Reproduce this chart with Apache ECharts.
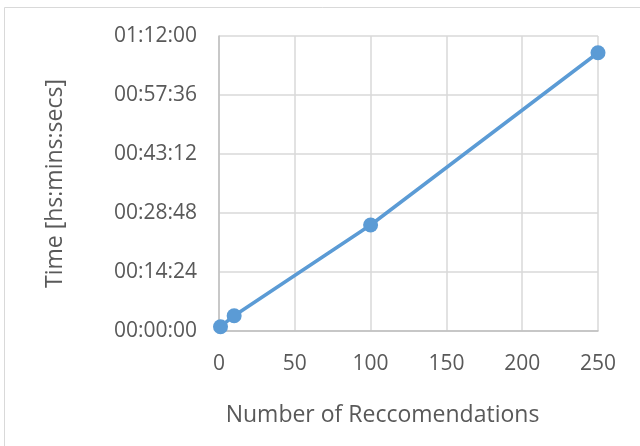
<!DOCTYPE html>
<html>
<head>
<meta charset="utf-8">
<script src="https://cdn.jsdelivr.net/npm/echarts@6/dist/echarts.min.js"></script>
<style>
html,body{margin:0;padding:0;background:#fff;}
#chart{width:640px;height:446px;}
</style>
</head>
<body>
<div id="chart"></div>
<script>
// Data: number of recommendations vs. time (seconds)
var recommendations = [1, 10, 100, 250];
var timeSeconds = [63, 224, 1552, 4075];
var xName = 'Number of Reccomendations';
var yName = 'Time [hs:mins:secs]';

function fmt(sec) {
  var h = Math.floor(sec / 3600);
  var m = Math.floor((sec % 3600) / 60);
  var s = Math.round(sec % 60);
  function p(n){ return (n < 10 ? '0' : '') + n; }
  return p(h) + ':' + p(m) + ':' + p(s);
}

var pts = recommendations.map(function(x, i){ return [x, timeSeconds[i]]; });
var FONT = '"Open Sans", sans-serif';
var chart = echarts.init(document.getElementById('chart'));
chart.setOption({
  animation: false,
  backgroundColor: '#ffffff',
  graphic: [{
    type: 'rect',
    shape: {x: 4.5, y: 7.5, width: 800, height: 600},
    style: {fill: 'none', stroke: '#d9d9d9', lineWidth: 1},
    silent: true, z: -1
  }],
  grid: {left: 219, right: 42, top: 36, bottom: 115},
  xAxis: {
    type: 'value', min: 0, max: 250, interval: 50,
    name: xName, nameLocation: 'middle', nameGap: 73,
    nameTextStyle: {color: '#595959', fontSize: 23, fontFamily: FONT, padding: [0, 52, 0, 0]},
    axisLine: {show: true, lineStyle: {color: '#bfbfbf', width: 1.5}},
    axisTick: {show: false},
    axisLabel: {color: '#595959', fontSize: 21, fontFamily: FONT, margin: 23},
    splitLine: {show: true, lineStyle: {color: '#d9d9d9', width: 1.5}}
  },
  yAxis: {
    type: 'value', min: 0, max: 4320, interval: 864,
    name: yName, nameLocation: 'middle', nameGap: 152,
    nameTextStyle: {color: '#595959', fontSize: 23, fontFamily: FONT},
    axisLine: {show: true, lineStyle: {color: '#bfbfbf', width: 1.5}},
    axisTick: {show: false},
    axisLabel: {color: '#595959', fontSize: 21, fontFamily: FONT, margin: 22, formatter: fmt},
    splitLine: {show: true, lineStyle: {color: '#d9d9d9', width: 1.5}}
  },
  series: [{
    type: 'line',
    data: pts,
    symbol: 'circle', symbolSize: 15,
    lineStyle: {color: '#5b9bd5', width: 3.5},
    itemStyle: {color: '#5b9bd5'}
  }]
});
</script>
</body>
</html>
